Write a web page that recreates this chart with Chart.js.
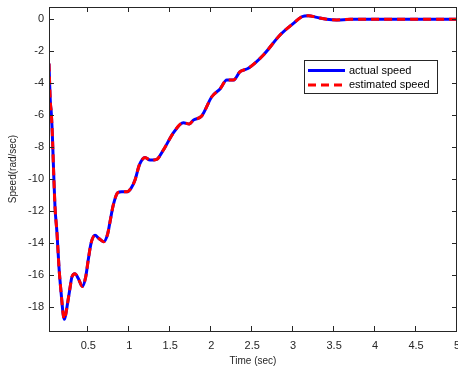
<!DOCTYPE html>
<html>
<head>
<meta charset="utf-8">
<script src="https://cdn.jsdelivr.net/npm/chart.js@4/dist/chart.umd.min.js"></script>
<style>
  html, body { margin: 0; padding: 0; background: #fff; }
  #c { display: block; }
</style>
</head>
<body>
<canvas id="c" width="458" height="369"></canvas>
<script>
// ---- data ----
const timeSec = [0.02,0.029,0.038,0.046,0.06,0.077,0.093,0.118,0.142,0.175,0.192,0.207,0.222,0.24,0.273,0.30,0.337,0.378,0.427,0.468,0.50,0.533,0.582,0.63,0.688,0.737,0.765,0.805,0.859,0.908,0.969,1.021,1.07,1.123,1.192,1.253,1.335,1.416,1.538,1.66,1.733,1.782,1.884,2.007,2.108,2.19,2.27,2.352,2.453,2.637,2.84,3.003,3.105,3.186,3.289,3.41,3.533,3.7,4.0,4.5,5.0];
const actualSpeed = [-2.76,-4.2,-5.3,-5.7,-7.1,-9.6,-11.7,-13.4,-15.5,-17.5,-18.4,-18.75,-18.5,-17.96,-16.9,-16.1,-15.9,-16.2,-16.7,-16.1,-15.0,-14.0,-13.5,-13.7,-13.9,-13.4,-12.65,-11.6,-10.84,-10.78,-10.78,-10.56,-10.04,-9.1,-8.63,-8.8,-8.75,-8.17,-7.1,-6.46,-6.54,-6.3,-6.04,-4.84,-4.35,-3.8,-3.8,-3.27,-3.06,-2.23,-0.98,-0.25,0.16,0.23,0.12,0.0,-0.04,0.0,0.0,0.0,0.0];
const estimatedSpeed = [-2.76,-4.2,-5.3,-5.7,-7.1,-9.6,-11.7,-13.4,-15.5,-17.5,-18.4,-18.75,-18.5,-17.96,-16.9,-16.1,-15.9,-16.2,-16.7,-16.1,-15.0,-14.0,-13.5,-13.7,-13.9,-13.4,-12.65,-11.6,-10.84,-10.78,-10.78,-10.56,-10.04,-9.1,-8.63,-8.8,-8.75,-8.17,-7.1,-6.46,-6.54,-6.3,-6.04,-4.84,-4.35,-3.8,-3.8,-3.27,-3.06,-2.23,-0.98,-0.25,0.16,0.23,0.12,0.0,-0.04,0.0,0.0,0.0,0.0];
const xTicks = [0.5,1,1.5,2,2.5,3,3.5,4,4.5,5];
const yTicks = [0,-2,-4,-6,-8,-10,-12,-14,-16,-18];
const seriesNames = ['actual speed','estimated speed'];
const xTitle = 'Time (sec)';
const yTitle = 'Speed(rad/sec)';

const AXIS_COLOR = '#262626';
const FONT = 'Arial, "Liberation Sans", Helvetica, sans-serif';

const pts = (ys) => timeSec.map((t, i) => ({x: t, y: ys[i]}));

const boxPlugin = {
  id: 'matlabBox',
  afterDraw(chart) {
    const {ctx, chartArea: a, scales: {x, y}} = chart;
    ctx.save();
    ctx.strokeStyle = AXIS_COLOR;
    ctx.lineWidth = 1;
    const L = 5;
    ctx.beginPath();
    xTicks.forEach(v => {
      const px = Math.round(x.getPixelForValue(v)) - 0.5;
      ctx.moveTo(px, a.bottom); ctx.lineTo(px, a.bottom - L);
      ctx.moveTo(px, a.top); ctx.lineTo(px, a.top + L);
    });
    yTicks.forEach(v => {
      const py = Math.round(y.getPixelForValue(v)) + 0.5;
      ctx.moveTo(a.left, py); ctx.lineTo(a.left + L, py);
      ctx.moveTo(a.right, py); ctx.lineTo(a.right - L, py);
    });
    ctx.stroke();
    ctx.strokeRect(Math.round(a.left) + 0.5, Math.round(a.top) + 0.5,
                   Math.round(a.right - a.left) - 1, Math.round(a.bottom - a.top));

    // legend
    const lx = 304.5, ly = 60.5, lw = 133, lh = 33;
    ctx.fillStyle = '#fff';
    ctx.fillRect(lx, ly, lw, lh);
    ctx.strokeStyle = AXIS_COLOR;
    ctx.lineWidth = 1;
    ctx.strokeRect(lx, ly, lw, lh);
    const ds = chart.data.datasets;
    const rows = [70.5, 85];
    ds.forEach((d, i) => {
      ctx.save();
      ctx.strokeStyle = d.borderColor;
      ctx.lineWidth = d.borderWidth;
      ctx.setLineDash(d.borderDash || []);
      ctx.beginPath();
      ctx.moveTo(308, rows[i]); ctx.lineTo(345, rows[i]);
      ctx.stroke();
      ctx.restore();
      ctx.fillStyle = '#000';
      ctx.font = '11px ' + FONT;
      ctx.textBaseline = 'middle';
      ctx.textAlign = 'left';
      ctx.fillText(d.label, 349, rows[i]);
    });
    ctx.restore();
  }
};

new Chart(document.getElementById('c'), {
  type: 'line',
  data: {
    datasets: [
      { label: seriesNames[0], data: pts(actualSpeed), borderColor: '#0000ff', borderWidth: 3,
        pointRadius: 0, cubicInterpolationMode: 'monotone', fill: false, order: 2 },
      { label: seriesNames[1], data: pts(estimatedSpeed), borderColor: '#ff0000', borderWidth: 3,
        borderDash: [8, 5], pointRadius: 0, cubicInterpolationMode: 'monotone', fill: false, order: 1 }
    ]
  },
  options: {
    responsive: false,
    animation: false,
    events: [],
    layout: { padding: { top: 7, right: 1, left: 0, bottom: 0 } },
    plugins: { legend: { display: false }, tooltip: { enabled: false } },
    scales: {
      x: {
        type: 'linear', min: 0.02, max: 5,
        afterBuildTicks: s => { s.ticks = xTicks.map(v => ({value: v})); },
        afterFit: s => { s.height = 38; s.paddingLeft = 0; s.paddingRight = 0; },
        grid: { display: false, drawTicks: false },
        border: { display: false },
        ticks: { color: AXIS_COLOR, font: { size: 11, family: FONT }, padding: 8, maxRotation: 0,
                 callback: v => String(v) },
        title: { display: true, text: xTitle, color: AXIS_COLOR, font: { size: 10, family: FONT },
                 padding: { top: 0, bottom: 2 } }
      },
      y: {
        type: 'linear', min: -19.48, max: 0.77,
        afterBuildTicks: s => { s.ticks = yTicks.map(v => ({value: v})); },
        afterFit: s => { s.width = 49; s.paddingTop = 0; s.paddingBottom = 0; },
        grid: { display: false, drawTicks: false },
        border: { display: false },
        ticks: { color: AXIS_COLOR, font: { size: 11, family: FONT }, padding: 5,
                 callback: v => String(v) },
        title: { display: true, text: yTitle, color: AXIS_COLOR, font: { size: 10, family: FONT },
                 padding: { top: 7, bottom: 0 } }
      }
    }
  },
  plugins: [boxPlugin]
});
</script>
</body>
</html>
